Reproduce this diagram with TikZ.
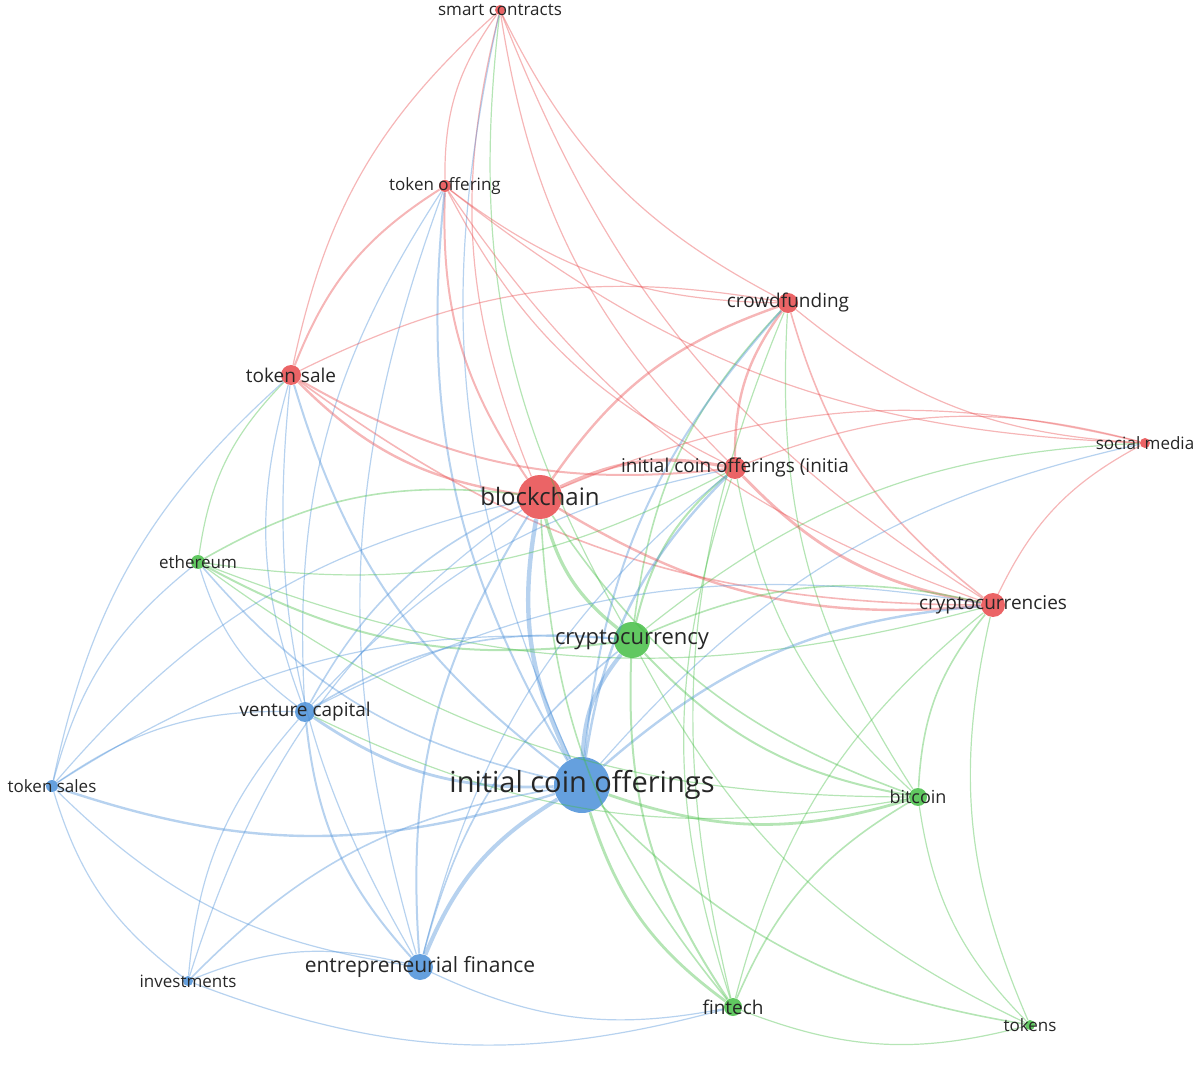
\documentclass[tikz,border=0pt]{standalone}
\usepackage{fontspec}
\setmainfont{Open Sans}
\definecolor{cr}{HTML}{E8494B}
\definecolor{cg}{HTML}{45BE45}
\definecolor{cb}{HTML}{4A8FD8}
\begin{document}
\begin{tikzpicture}[x=0.5pt,y=-0.5pt,
  nd/.style={circle,inner sep=0pt,opacity=0.85},
  lb/.style={font=\fontsize{8.5}{9}\selectfont,text=black!85,inner sep=0pt},
  ed/.style={line width=0.6pt,opacity=0.4}]
\useasboundingbox (0,0) rectangle (1200,1080);
\foreach \n/\x/\y/\r/\c in {sc/500/10/5/cr,to/445/186/6/cr,cf/788/303/10/cr,ts/291/375/10/cr,sm/1145/443/5/cr,icoi/735/468/11/cr,bc/540/497/22/cr,eth/198/562/7/cg,ccs/993/605/12/cr,cc/632/640/18/cg,vc/305/712/10/cb,tss/52/786/6/cb,ico/582/785/28/cb,btc/918/797/9/cg,inv/188/981/5/cb,ef/420/967/13/cb,ft/733/1007/9/cg,tk/1030/1025/5/cg}
  \node[nd,fill=\c,minimum size=\r pt] (\n) at (\x,\y) {};
\foreach \a/\b/\c/\w in {sc/to/cr/0.6,sc/ts/cr/0.6,sc/cf/cr/0.6,sc/bc/cr/0.6,sc/icoi/cr/0.6,sc/ccs/cr/0.6,sc/cc/cg/0.6,sc/ico/cb/0.6,
to/ts/cr/1.0,to/cf/cr/0.6,to/bc/cr/1.0,to/icoi/cr/0.6,to/ccs/cr/0.6,to/ico/cb/1.0,to/vc/cb/0.6,to/ef/cb/0.6,to/sm/cr/0.6,
cf/ts/cr/0.6,cf/bc/cr/1.2,cf/icoi/cr/1.2,cf/ccs/cr/0.8,cf/sm/cr/0.6,cf/cc/cg/0.8,cf/ico/cb/1.0,cf/ft/cg/0.6,cf/btc/cg/0.6,
ts/bc/cr/1.2,ts/icoi/cr/1.0,ts/ccs/cr/0.8,ts/eth/cg/0.6,ts/vc/cb/0.6,ts/ico/cb/1.0,ts/ef/cb/0.6,ts/tss/cb/0.6,
sm/icoi/cr/0.6,sm/bc/cr/0.6,sm/ccs/cr/0.6,sm/ico/cb/0.6,sm/cc/cg/0.6,
icoi/bc/cr/1.6,icoi/ccs/cr/1.4,icoi/cc/cg/1.0,icoi/ico/cb/1.2,icoi/btc/cg/0.6,icoi/ft/cg/0.6,icoi/vc/cb/0.6,icoi/ef/cb/0.6,
bc/ccs/cr/1.2,bc/cc/cg/1.6,bc/ico/cb/2.2,bc/eth/cg/0.8,bc/vc/cb/0.8,bc/ef/cb/1.0,bc/ft/cg/0.8,bc/btc/cg/0.8,bc/tss/cb/0.6,bc/inv/cb/0.6,
eth/cc/cg/1.0,eth/ico/cb/0.8,eth/tss/cb/0.6,eth/vc/cb/0.6,eth/btc/cg/0.6,eth/ccs/cg/0.6,eth/icoi/cg/0.6,
ccs/cc/cg/0.8,ccs/ico/cb/1.2,ccs/btc/cg/0.8,ccs/ft/cg/0.6,ccs/tk/cg/0.6,ccs/vc/cb/0.6,
cc/ico/cb/2.0,cc/btc/cg/1.0,cc/ft/cg/1.0,cc/vc/cb/0.8,cc/ef/cb/0.8,cc/tk/cg/0.6,cc/tss/cb/0.6,
vc/ico/cb/1.4,vc/tss/cb/0.6,vc/ef/cb/1.0,vc/inv/cb/0.6,vc/btc/cg/0.6,
tss/ico/cb/1.2,tss/ef/cb/0.6,tss/inv/cb/0.6,
ico/btc/cg/1.4,ico/ft/cg/1.4,ico/ef/cb/2.0,ico/inv/cb/0.8,ico/tk/cg/0.8,
btc/ft/cg/0.8,btc/tk/cg/0.6,ef/inv/cb/0.6,ef/ft/cb/0.6,ft/tk/cg/0.6,inv/ft/cb/0.6}
  \draw[ed,draw=\c,line width=\w pt] (\a) to[bend right=18] (\b);
\foreach \n/\t/\s in {sc/smart contracts/8.5,to/token offering/8.5,cf/crowdfunding/9.5,ts/token sale/9.5,sm/social media/8.5,icoi/initial coin offerings (initia/9.5,bc/blockchain/12,eth/ethereum/8.5,ccs/cryptocurrencies/9.5,cc/cryptocurrency/11,vc/venture capital/9.5,tss/token sales/8.5,ico/initial coin offerings/14.5,btc/bitcoin/9,inv/investments/8.5,ef/entrepreneurial finance/10.5,ft/fintech/9.5,tk/tokens/8.5}
  \node[lb,font=\fontsize{\s}{\s}\selectfont] (l\n) at (\n) {\t};
\end{tikzpicture}
\end{document}
